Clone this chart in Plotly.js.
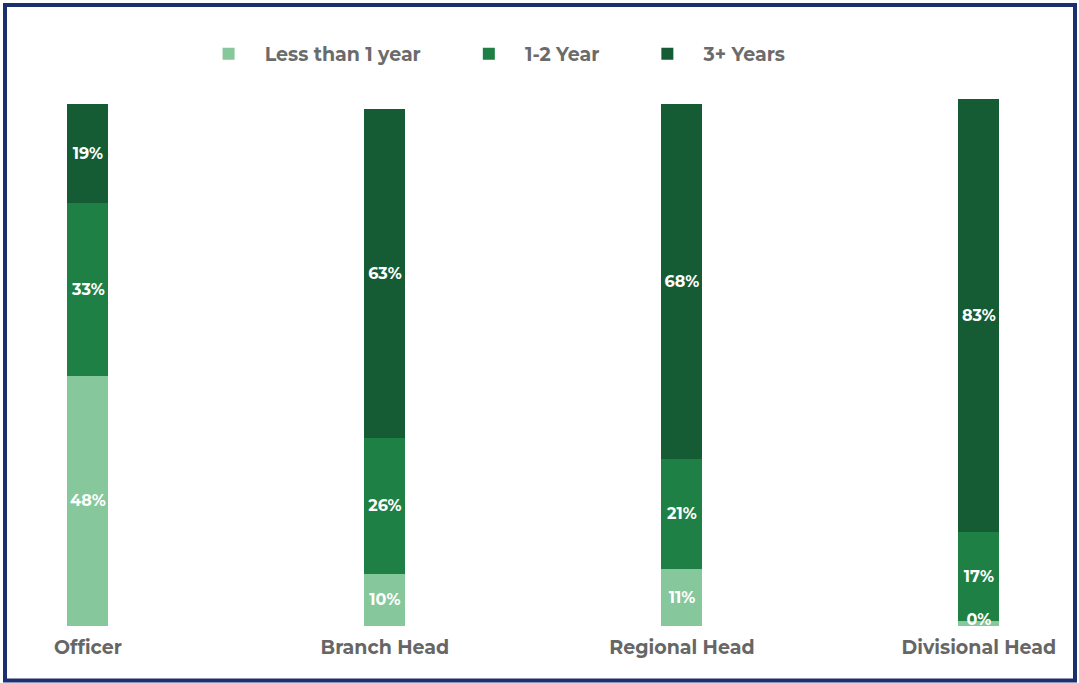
<!DOCTYPE html>
<html>
<head>
<meta charset="utf-8">
<script src="https://cdn.plot.ly/plotly-3.0.1.min.js"></script>
<style>
html,body{margin:0;padding:0;background:#fff;}
#chart{width:1079px;height:683px;}
</style>
</head>
<body>
<div id="chart"></div>
<script>
const categories = ['Officer', 'Branch Head', 'Regional Head', 'Divisional Head'];
const seriesNames = ['Less than 1 year', '1-2 Year', '3+ Years'];
const lessThan1Year = [48, 10, 11, 1];
const lessThan1YearLabels = ['48%', '10%', '11%', '0%'];
const oneToTwoYears = [33, 26, 21, 17];
const threePlusYears = [19, 63, 68, 83];
const colors = ['#86c89b', '#1f8045', '#155c35'];

const lead = '\u00a0'.repeat(3);
const pad = '\u00a0'.repeat(8);
function pct(arr){ return arr.map(v => v + '%'); }
const FONT = 'Montserrat, "DejaVu Sans", sans-serif';

// segments too thin to hold their label get it drawn by a text trace on top
const thin = lessThan1Year.map(v => v < 3);
const barLabels = lessThan1YearLabels.map((t, i) => thin[i] ? '' : t);

const common = {
  type: 'bar',
  width: 0.138,
  textposition: 'inside',
  insidetextanchor: 'middle',
  textangle: 0,
  textfont: {family: FONT, size: 16, color: '#ffffff', weight: 'bold'},
  hoverinfo: 'skip'
};

const data = [
  Object.assign({}, common, {x: categories, y: lessThan1Year, text: barLabels, name: lead + seriesNames[0] + pad, marker: {color: colors[0]}}),
  Object.assign({}, common, {x: categories, y: oneToTwoYears, text: pct(oneToTwoYears), name: lead + seriesNames[1] + pad, marker: {color: colors[1]}}),
  Object.assign({}, common, {x: categories, y: threePlusYears, text: pct(threePlusYears), name: lead + seriesNames[2], marker: {color: colors[2]}}),
  {
    type: 'scatter', mode: 'text', showlegend: false, hoverinfo: 'skip', cliponaxis: false,
    x: categories.filter((c, i) => thin[i]),
    y: lessThan1Year.filter((v, i) => thin[i]),
    text: lessThan1YearLabels.filter((t, i) => thin[i]),
    textposition: 'middle center',
    textfont: {family: FONT, size: 16, color: '#ffffff', weight: 'bold'}
  }
];

const H = 683 - 99 - 57;
const layout = {
  width: 1079, height: 683,
  margin: {l: 0, r: 0, t: 99, b: 57},
  barmode: 'stack',
  paper_bgcolor: '#ffffff',
  plot_bgcolor: '#ffffff',
  showlegend: true,
  uniformtext: {mode: 'show', minsize: 16},
  legend: {
    orientation: 'h', x: 0.463, xanchor: 'center', y: (626 - 54) / H, yanchor: 'middle',
    bgcolor: 'rgba(0,0,0,0)',
    font: {family: FONT, size: 19, color: '#6b6b6b', weight: 'bold'},
    traceorder: 'normal', itemclick: false
  },
  xaxis: {
    type: 'category', range: [-0.296, 3.337],
    showgrid: false, zeroline: false, showline: false, ticks: '',
    ticklabelstandoff: 8,
    tickfont: {family: FONT, size: 19, color: '#666666', weight: 'bold'},
    fixedrange: true
  },
  yaxis: {
    range: [0, 101], visible: false, showgrid: false, zeroline: false, fixedrange: true
  },
  shapes: [{
    type: 'rect', xref: 'paper', yref: 'paper',
    x0: 5 / 1079, x1: 1075 / 1079,
    y0: (626 - 680.5) / H, y1: (626 - 5) / H,
    line: {color: '#1c2f6e', width: 4}, fillcolor: 'rgba(0,0,0,0)', layer: 'above'
  }]
};

Plotly.newPlot('chart', data, layout, {displayModeBar: false, staticPlot: true});
</script>
</body>
</html>
